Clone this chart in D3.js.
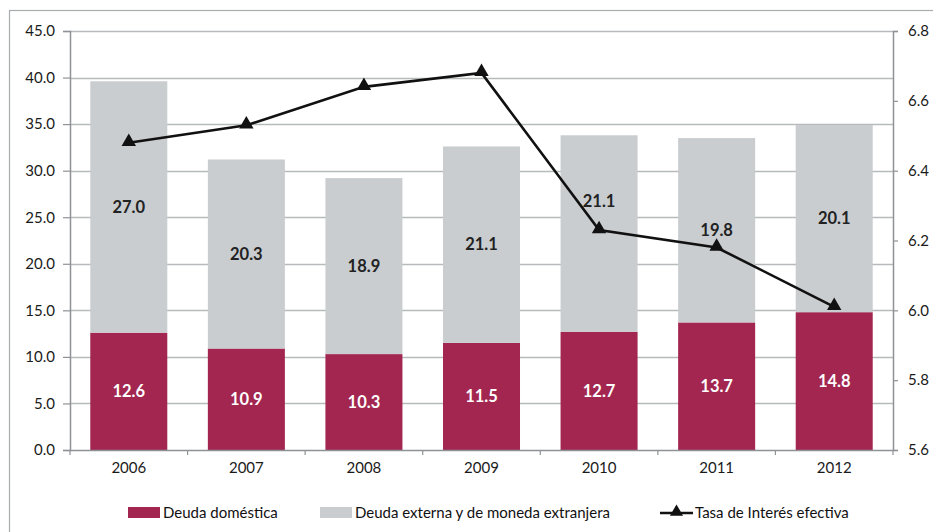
<!DOCTYPE html>
<html>
<head>
<meta charset="utf-8">
<script src="https://cdn.jsdelivr.net/npm/d3@7"></script>
<style>
  html, body { margin: 0; padding: 0; background: #fff; }
  svg { display: block; font-family: Lato, "Open Sans", sans-serif; }
</style>
</head>
<body>
<svg id="chart" width="933" height="532"></svg>
<script>
// Years on the category axis
const years = ["2006", "2007", "2008", "2009", "2010", "2011", "2012"];
// Stacked debt components (left axis)
const deudaDomestica = [12.6, 10.9, 10.3, 11.5, 12.7, 13.7, 14.8];
const deudaExterna = [27.0, 20.3, 18.9, 21.1, 21.1, 19.8, 20.1];
// Effective interest rate (right axis)
const tasaInteres = [6.48, 6.53, 6.64, 6.68, 6.23, 6.18, 6.01];
// Axis tick values
const leftTicks = [0, 5, 10, 15, 20, 25, 30, 35, 40, 45];
const rightTicks = [5.6, 5.8, 6.0, 6.2, 6.4, 6.6, 6.8];

const colorDom = "#a2264f";
const colorExt = "#c9cdd0";
const axisColor = "#8e9296";
const gridColor = "#b6babd";

const svg = d3.select("#chart");
const m = { left: 70, right: 893, top: 31, bottom: 450 };

// Frame around the chart
svg.append("rect")
  .attr("x", 9.5).attr("y", 10.5)
  .attr("width", 940).attr("height", 540)
  .attr("fill", "none").attr("stroke", "#a9acaf").attr("stroke-width", 1.2);

const x = d3.scaleBand().domain(years).range([m.left, m.right]).paddingInner(0.345).paddingOuter(0.1725);
const yL = d3.scaleLinear().domain([0, 45]).range([m.bottom, m.top]);
const yR = d3.scaleLinear().domain([5.6, 6.8]).range([m.bottom, m.top]);

// Horizontal gridlines
svg.append("g").selectAll("line").data(leftTicks.filter(d => d > 0)).join("line")
  .attr("x1", m.left).attr("x2", m.right)
  .attr("y1", d => Math.round(yL(d)) + 0.5).attr("y2", d => Math.round(yL(d)) + 0.5)
  .attr("stroke", gridColor).attr("stroke-width", 1.5);

// Stacked bars
const stackData = years.map((yr, i) => ({ year: yr, dom: deudaDomestica[i], ext: deudaExterna[i] }));
const series = d3.stack().keys(["dom", "ext"])(stackData);
const fills = { dom: colorDom, ext: colorExt };

svg.append("g").selectAll("g").data(series).join("g")
  .attr("fill", s => fills[s.key])
  .selectAll("rect").data(s => s).join("rect")
  .attr("x", d => x(d.data.year))
  .attr("width", x.bandwidth())
  .attr("y", d => yL(d[1]))
  .attr("height", d => yL(d[0]) - yL(d[1]));

// Value labels inside each segment; the 2010 external label is lifted clear of the rate line
const labelLift = { "2010": 32 };
const labels = svg.append("g").attr("font-weight", 700).attr("font-size", 16.5).attr("text-anchor", "middle");
series.forEach(s => {
  labels.selectAll(null).data(s).join("text")
    .attr("x", d => x(d.data.year) + x.bandwidth() / 2)
    .attr("y", d => yL((d[0] + d[1]) / 2) - (s.key === "ext" ? (labelLift[d.data.year] || 0) : 0))
    .attr("dy", "0.35em")
    .attr("fill", s.key === "dom" ? "#ffffff" : "#222222")
    .text(d => d3.format(".1f")(d[1] - d[0]));
});

// Left axis
const leftAxis = svg.append("g").attr("transform", `translate(${m.left},0)`)
  .call(d3.axisLeft(yL).tickValues(leftTicks).tickFormat(d3.format(".1f")).tickSize(7).tickPadding(8));
// Right axis
const rightAxis = svg.append("g").attr("transform", `translate(${m.right},0)`)
  .call(d3.axisRight(yR).tickValues(rightTicks).tickFormat(d3.format(".1f")).tickSize(5).tickPadding(10));
// Bottom axis with ticks between categories
const bottomAxis = svg.append("g").attr("transform", `translate(0,${m.bottom})`)
  .call(d3.axisBottom(x).tickSize(0).tickPadding(12));
const bounds = d3.range(years.length + 1).map(i => m.left + i * (m.right - m.left) / years.length);
bottomAxis.selectAll(".sep").data(bounds).join("line").attr("class", "sep")
  .attr("x1", d => d).attr("x2", d => d).attr("y1", 0).attr("y2", 5)
  .attr("stroke", axisColor).attr("stroke-width", 1.2);

[leftAxis, rightAxis, bottomAxis].forEach(g => {
  g.select(".domain").attr("stroke", axisColor).attr("stroke-width", 1.5);
  g.selectAll(".tick line").attr("stroke", axisColor).attr("stroke-width", 1.2);
  g.selectAll(".tick text").attr("font-family", "Lato, sans-serif").attr("font-size", 15).attr("fill", "#1a1a1a");
});
bottomAxis.select(".domain").attr("d", `M${m.left},0.5H${m.right}`);

// Interest rate line with triangle markers
const cx = yr => x(yr) + x.bandwidth() / 2;
const lineGen = d3.line().x((d, i) => cx(years[i])).y(d => yR(d));
svg.append("path").datum(tasaInteres)
  .attr("d", lineGen).attr("fill", "none").attr("stroke", "#111").attr("stroke-width", 2.6);
const tri = d3.symbol().type(d3.symbolTriangle).size(90);
svg.append("g").selectAll("path").data(tasaInteres).join("path")
  .attr("d", tri)
  .attr("transform", (d, i) => `translate(${cx(years[i])},${yR(d) - 1})`)
  .attr("fill", "#111");

// Legend
const legend = svg.append("g").attr("font-family", "Lato, sans-serif").attr("font-size", 15).attr("fill", "#111");
const ly = 513;
legend.append("rect").attr("x", 128).attr("y", ly - 6).attr("width", 32).attr("height", 11).attr("fill", colorDom);
legend.append("text").attr("x", 163).attr("y", ly).attr("dy", "0.35em").text("Deuda doméstica");
legend.append("rect").attr("x", 320).attr("y", ly - 6).attr("width", 32).attr("height", 11).attr("fill", colorExt);
legend.append("text").attr("x", 355).attr("y", ly).attr("dy", "0.35em").text("Deuda externa y de moneda extranjera");
legend.append("line").attr("x1", 660).attr("x2", 693).attr("y1", ly).attr("y2", ly).attr("stroke", "#111").attr("stroke-width", 2.6);
legend.append("path").attr("d", d3.symbol().type(d3.symbolTriangle).size(75)).attr("transform", `translate(676.5,${ly - 1})`).attr("fill", "#111");
legend.append("text").attr("x", 695).attr("y", ly).attr("dy", "0.35em").text("Tasa de Interés efectiva");
</script>
</body>
</html>
